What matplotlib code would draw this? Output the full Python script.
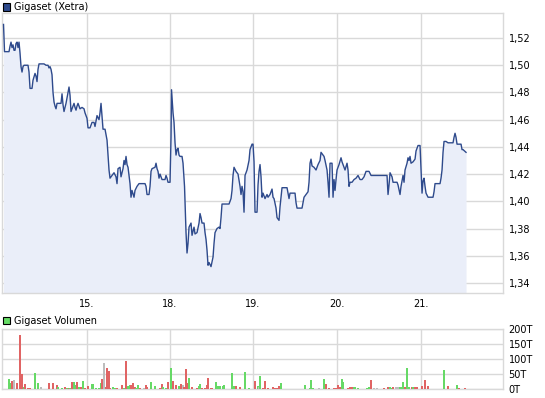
import matplotlib
matplotlib.use("Agg")
from matplotlib import pyplot as plt
from matplotlib.patches import Rectangle

# intraday bar index (approx. 6 min bars) and price of Gigaset on Xetra
bars = [0.5, 1, 1.5, 6, 7, 8, 9, 10, 11, 12, 13, 14, 15, 16, 17, 18, 19, 20, 21, 25,
        26, 27, 29, 30, 32, 33, 34, 35, 36, 41, 43, 45, 46, 47, 48, 49, 50, 51, 52, 53,
        54, 58, 59, 60, 61, 63, 65, 66, 67, 68, 70, 71, 72, 73, 74, 75, 77, 79, 81, 82,
        84, 85, 87, 89, 91, 92, 94, 96, 97, 98, 99, 100, 102, 104, 105, 106, 107, 109, 111, 113,
        114, 115, 117, 118, 120, 121, 122, 123, 124, 125, 126, 127, 128, 129, 131, 132, 134, 136, 142, 143,
        144, 146, 147, 148, 149, 152, 153, 154, 155, 156, 157, 158, 159, 162, 163, 164, 165, 167, 168, 168.5,
        169, 170, 171, 172, 173, 174, 175, 176, 177, 179, 180, 181.5, 183, 184, 185, 186, 188, 189, 191, 192,
        194, 196, 197, 198, 199, 201, 202, 203, 204, 205, 206, 208, 210, 211, 212, 214, 216, 217, 218, 219,
        226, 228, 229, 230, 231, 233, 235, 237, 238, 239, 240, 241, 242, 244, 246, 247, 249, 250, 251, 252,
        254, 255, 256, 257, 258, 259, 260, 262, 264, 265, 267, 269, 270, 271, 273, 274, 276, 277, 278, 279,
        284, 285, 286, 287, 292, 293, 294, 299, 300, 301, 303, 305, 306, 307, 308, 309, 311, 313, 315, 317,
        318, 319, 321, 322, 324, 325, 326, 327, 329, 330, 331, 332, 333, 334, 336, 338, 339, 341, 342, 344,
        345, 346, 347, 349, 351, 353, 355, 357, 359, 361, 363, 366, 368, 376, 377, 383, 384, 385, 386, 387,
        389, 390, 394, 395, 397, 398, 400, 401, 402, 404, 405, 406, 407, 408, 410, 412, 413, 415, 417, 418,
        419, 420, 421, 422, 423, 425, 430, 431, 432, 437, 438, 439, 440, 441, 443, 445, 450, 451, 452, 453,
        454, 458, 459, 460, 463]
price = [1.530, 1.520, 1.510, 1.510, 1.514, 1.517, 1.513, 1.515, 1.511, 1.511, 1.516, 1.517, 1.513, 1.517, 1.509, 1.499, 1.495, 1.499, 1.500, 1.500,
         1.495, 1.483, 1.483, 1.489, 1.494, 1.492, 1.488, 1.497, 1.501, 1.501, 1.500, 1.500, 1.498, 1.499, 1.497, 1.493, 1.480, 1.473, 1.470, 1.468,
         1.472, 1.472, 1.479, 1.471, 1.466, 1.472, 1.480, 1.484, 1.478, 1.466, 1.470, 1.472, 1.469, 1.467, 1.470, 1.472, 1.468, 1.469, 1.468, 1.465,
         1.461, 1.454, 1.454, 1.458, 1.458, 1.455, 1.463, 1.460, 1.465, 1.472, 1.463, 1.453, 1.453, 1.445, 1.434, 1.423, 1.417, 1.419, 1.421, 1.418,
         1.413, 1.424, 1.425, 1.418, 1.424, 1.430, 1.427, 1.433, 1.427, 1.425, 1.419, 1.413, 1.403, 1.408, 1.403, 1.408, 1.411, 1.413, 1.413, 1.411,
         1.405, 1.405, 1.411, 1.422, 1.424, 1.425, 1.428, 1.424, 1.422, 1.417, 1.420, 1.418, 1.416, 1.416, 1.419, 1.417, 1.414, 1.414, 1.447, 1.482,
         1.476, 1.465, 1.458, 1.443, 1.434, 1.438, 1.439, 1.434, 1.433, 1.433, 1.428, 1.411, 1.377, 1.362, 1.369, 1.381, 1.384, 1.375, 1.381, 1.376,
         1.377, 1.384, 1.391, 1.388, 1.384, 1.384, 1.377, 1.372, 1.364, 1.353, 1.355, 1.352, 1.359, 1.369, 1.377, 1.380, 1.381, 1.380, 1.388, 1.398,
         1.398, 1.402, 1.408, 1.419, 1.425, 1.422, 1.420, 1.411, 1.405, 1.411, 1.407, 1.392, 1.419, 1.423, 1.430, 1.438, 1.442, 1.442, 1.429, 1.392,
         1.392, 1.412, 1.422, 1.427, 1.418, 1.403, 1.406, 1.402, 1.405, 1.403, 1.405, 1.409, 1.403, 1.402, 1.395, 1.388, 1.386, 1.396, 1.403, 1.410,
         1.410, 1.406, 1.402, 1.406, 1.406, 1.399, 1.395, 1.395, 1.399, 1.403, 1.405, 1.407, 1.414, 1.428, 1.431, 1.426, 1.425, 1.423, 1.427, 1.430,
         1.436, 1.435, 1.433, 1.430, 1.423, 1.414, 1.403, 1.428, 1.428, 1.403, 1.416, 1.408, 1.416, 1.423, 1.427, 1.432, 1.429, 1.425, 1.423, 1.428,
         1.423, 1.411, 1.414, 1.414, 1.416, 1.417, 1.419, 1.416, 1.416, 1.418, 1.422, 1.422, 1.419, 1.419, 1.419, 1.419, 1.419, 1.405, 1.412, 1.421,
         1.418, 1.414, 1.414, 1.412, 1.405, 1.411, 1.419, 1.414, 1.423, 1.428, 1.432, 1.430, 1.433, 1.428, 1.429, 1.431, 1.437, 1.441, 1.441, 1.423,
         1.406, 1.415, 1.417, 1.411, 1.406, 1.403, 1.403, 1.407, 1.413, 1.413, 1.417, 1.423, 1.436, 1.444, 1.444, 1.443, 1.443, 1.447, 1.450, 1.447,
         1.442, 1.442, 1.438, 1.438, 1.436]

# volume bars: bar index, volume in thousands, direction (g=up, r=down, n=unchanged)
vol_bars = [6, 8, 9, 11, 14, 17, 19, 21, 22, 25, 27, 32, 35, 38, 46, 50, 54, 55, 59, 62,
            64, 66, 67, 69, 71, 72, 74, 76, 78, 80, 82, 85, 89, 90, 93, 96, 98, 99, 101, 103,
            104, 106, 107, 110, 112, 114, 119, 121, 123, 125, 127, 128, 130, 132, 133, 135, 137, 141, 143, 144,
            148, 152, 157, 159, 160, 163, 165, 168, 170, 173, 176, 178, 180, 181, 183, 184, 186, 189, 194, 196,
            197, 199, 202, 204, 205, 208, 209, 213, 215, 217, 220, 221, 229, 231, 233, 237, 242, 246, 252, 255,
            256, 257, 260, 262, 265, 270, 272, 274, 276, 278, 302, 307, 308, 310, 316, 321, 323, 326, 331, 333,
            335, 337, 339, 340, 345, 347, 349, 351, 352, 355, 364, 366, 368, 371, 374, 381, 385, 387, 389, 390,
            393, 395, 397, 398, 400, 402, 404, 406, 409, 410, 412, 414, 419, 422, 425, 441, 445, 454, 456, 462]
volume = [33, 19, 27, 30, 20, 180, 49, 8, 16, 4, 3, 53, 20, 7, 20, 20, 13, 7, 3, 7,
          4, 3, 4, 24, 22, 13, 23, 8, 7, 27, 4, 10, 17, 17, 3, 4, 19, 33, 87, 7,
          70, 60, 4, 7, 3, 3, 13, 4, 93, 10, 13, 13, 20, 7, 4, 13, 4, 3, 13, 8,
          23, 10, 3, 16, 7, 4, 23, 70, 27, 13, 10, 16, 13, 7, 67, 19, 38, 6, 3, 9,
          17, 3, 4, 13, 38, 3, 3, 22, 9, 9, 10, 13, 52, 10, 10, 7, 57, 3, 27, 9,
          7, 43, 3, 27, 4, 7, 3, 3, 10, 20, 14, 3, 31, 3, 3, 34, 18, 3, 3, 3,
          14, 6, 34, 22, 3, 7, 7, 7, 7, 3, 3, 7, 31, 3, 3, 3, 7, 7, 3, 6,
          7, 7, 7, 7, 24, 7, 70, 7, 7, 7, 7, 7, 11, 31, 11, 64, 11, 14, 3, 3]
direction = ["g", "g", "r", "n", "r", "r", "r", "g", "r", "r", "r", "g", "g", "n", "r", "r", "r", "g", "g", "r",
             "g", "r", "g", "r", "g", "g", "r", "g", "r", "g", "r", "r", "g", "g", "g", "g", "g", "r", "n", "r",
             "r", "r", "r", "g", "g", "r", "r", "g", "r", "g", "g", "r", "r", "r", "g", "g", "r", "n", "r", "r",
             "g", "g", "r", "r", "g", "g", "r", "g", "r", "r", "g", "r", "n", "r", "r", "r", "g", "r", "r", "g",
             "g", "r", "r", "r", "r", "r", "r", "g", "g", "g", "g", "g", "g", "g", "r", "r", "g", "g", "r", "g",
             "n", "g", "r", "r", "r", "r", "r", "r", "r", "g", "g", "g", "g", "g", "n", "g", "r", "r", "r", "r",
             "r", "r", "g", "g", "r", "r", "r", "g", "g", "g", "g", "g", "r", "n", "n", "r", "r", "g", "g", "r",
             "n", "n", "g", "g", "g", "r", "g", "g", "r", "g", "r", "r", "r", "r", "r", "g", "r", "g", "r", "r"]

day_starts = [84, 167, 250, 334, 418]
day_labels = ["15.", "18.", "19.", "20.", "21."]
price_ticks = [1.34, 1.36, 1.38, 1.40, 1.42, 1.44, 1.46, 1.48, 1.50, 1.52]
vol_ticks = [0, 50, 100, 150, 200]

line_col = "#2e4a8c"
fill_col = "#eaeef9"
grid_col = "#d9d9d9"
dir_cols = {"g": "#66d966", "r": "#e06464", "n": "#bdbdbd"}

plt.rcParams["font.family"] = ["DejaVu Sans"]

fig = plt.figure(figsize=(5.45, 3.98), dpi=100)
ax = fig.add_axes([0.0037, 0.2638, 0.9193, 0.7035])
axv = fig.add_axes([0.0037, 0.0226, 0.9193, 0.1508])

x_lo, x_hi = -1, 500
y_lo, y_hi = 1.3326, 1.5384

# price chart
ax.fill_between(bars, price, y_lo, color=fill_col, lw=0, zorder=1)
ax.plot(bars, price, color=line_col, lw=1.0, zorder=3)
ax.set_xlim(x_lo, x_hi)
ax.set_ylim(y_lo, y_hi)
ax.set_xticks(day_starts)
ax.set_xticklabels(day_labels)
ax.set_yticks(price_ticks)
ax.set_yticklabels([f"{v:.2f}".replace(".", ",") for v in price_ticks])
ax.yaxis.tick_right()
ax.grid(True, color=grid_col, lw=1.0, zorder=0)
ax.set_axisbelow(True)
ax.tick_params(length=0, labelsize=7, colors="black")
ax.tick_params(axis="y", pad=4)
ax.tick_params(axis="x", pad=4)
for s in ax.spines.values():
    s.set_color(grid_col)
    s.set_linewidth(1.0)

# volume chart
axv.bar(vol_bars, volume, width=1.3, color=[dir_cols[d] for d in direction], lw=0, zorder=3)
axv.set_xlim(x_lo, x_hi)
axv.set_ylim(0, 200)
axv.set_xticks(day_starts)
axv.set_xticklabels([])
axv.set_yticks(vol_ticks)
axv.set_yticklabels([f"{v}T" for v in vol_ticks])
axv.yaxis.tick_right()
axv.grid(True, color=grid_col, lw=1.0, zorder=0)
axv.set_axisbelow(True)
axv.tick_params(length=0, labelsize=7, colors="black", pad=4)
for s in axv.spines.values():
    s.set_color(grid_col)
    s.set_linewidth(1.0)

# legend-like labels
fig.add_artist(Rectangle((3 / 545, 1 - 10.5 / 398), 7 / 545, 7 / 398, transform=fig.transFigure,
                         facecolor=line_col, edgecolor="black", lw=0.8))
fig.text(14 / 545, 1 - 7.5 / 398, "Gigaset (Xetra)", fontsize=7, va="center", ha="left")
fig.add_artist(Rectangle((3 / 545, 1 - 324 / 398), 7 / 545, 7 / 398, transform=fig.transFigure,
                         facecolor="#66dd66", edgecolor="black", lw=0.8))
fig.text(14 / 545, 1 - 320.5 / 398, "Gigaset Volumen", fontsize=7, va="center", ha="left")

fig.savefig("out.png", dpi=100)
